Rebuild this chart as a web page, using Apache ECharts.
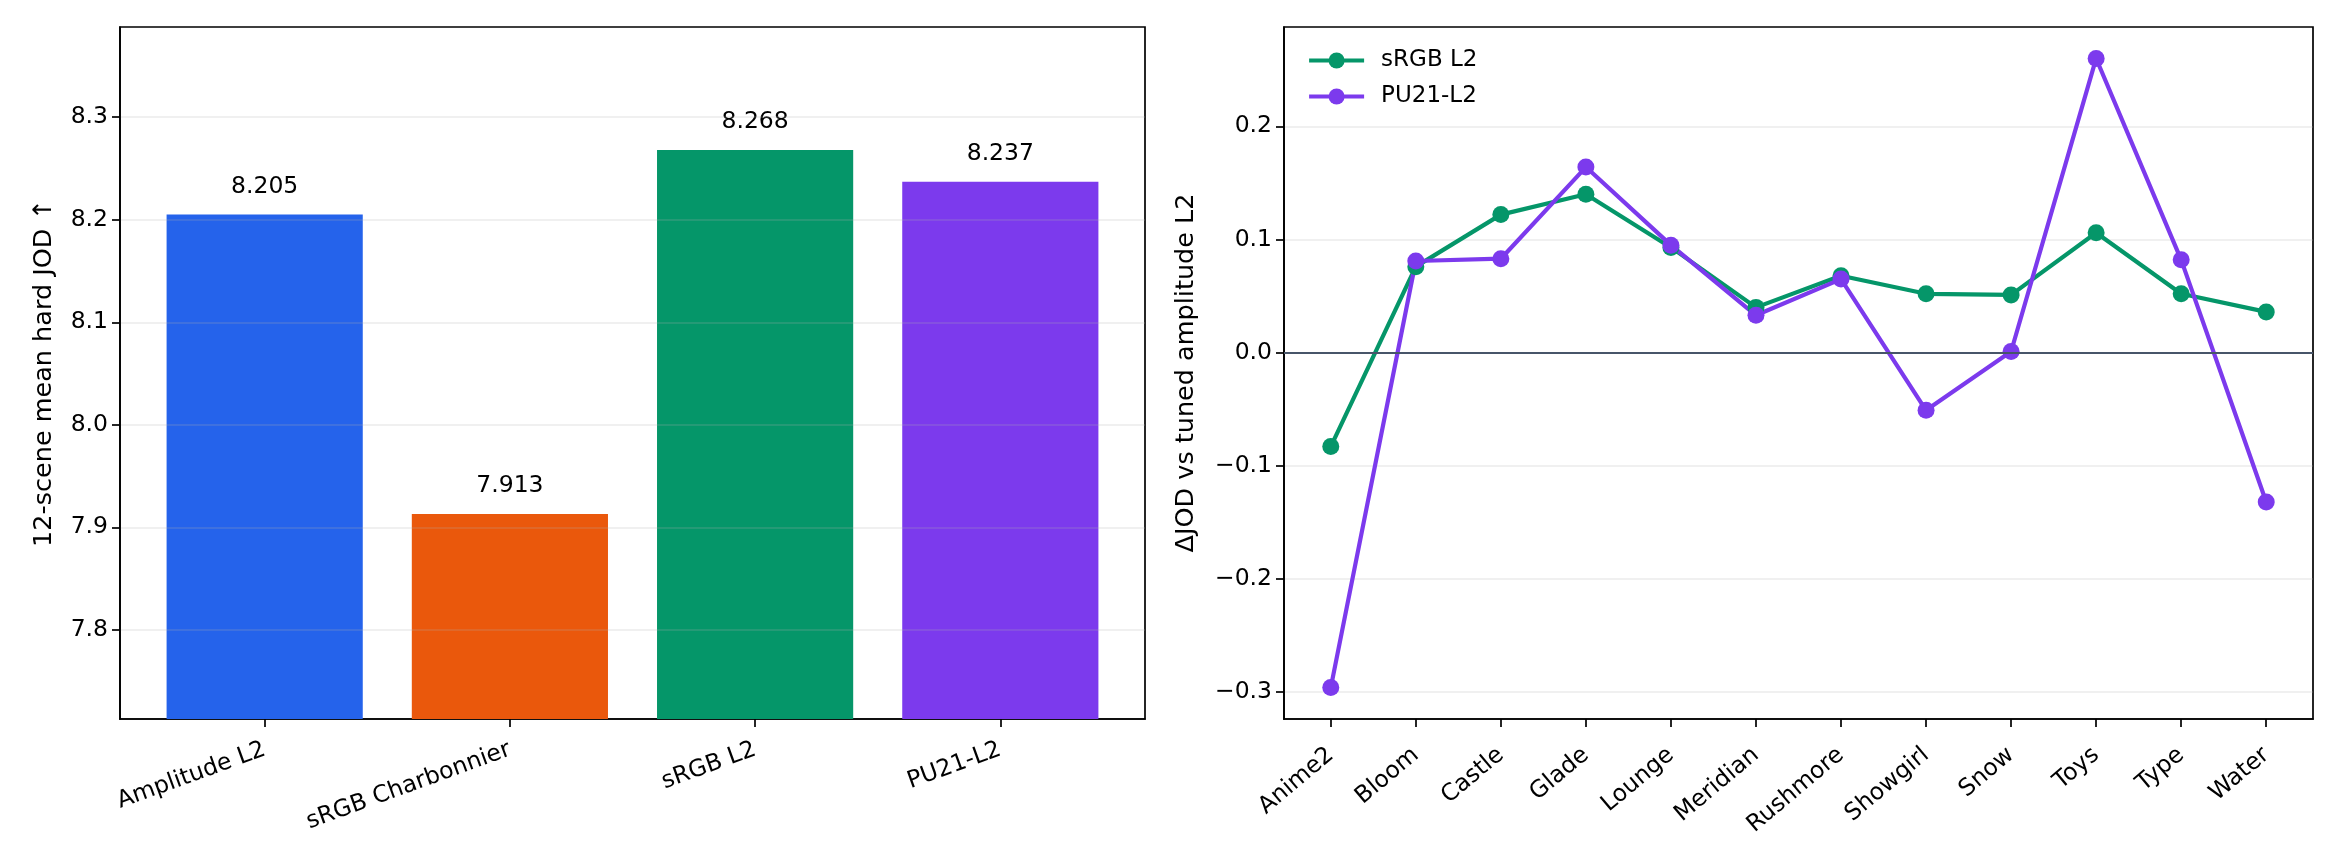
<!DOCTYPE html>
<html>
<head>
<meta charset="utf-8">
<title>JOD comparison</title>
<script src="https://cdn.jsdelivr.net/npm/echarts@6/dist/echarts.min.js"></script>
<style>
  html, body { margin: 0; padding: 0; background: #fff; }
  #chart { width: 2340px; height: 864px; }
</style>
</head>
<body>
<div id="chart"></div>
<script>
// left panel: mean hard JOD per loss
var methods = ['Amplitude L2', 'sRGB Charbonnier', 'sRGB L2', 'PU21-L2'];
var meanJod = [8.205, 7.913, 8.268, 8.237];
var barColors = ['#2563eb', '#ea580c', '#059669', '#7c3aed'];
var leftTicks = [7.8, 7.9, 8.0, 8.1, 8.2, 8.3];

// right panel: per-scene delta vs tuned amplitude L2
var scenes = ['Anime2', 'Bloom', 'Castle', 'Glade', 'Lounge', 'Meridian',
              'Rushmore', 'Showgirl', 'Snow', 'Toys', 'Type', 'Water'];
var srgbDelta = [-0.083, 0.076, 0.122, 0.140, 0.093, 0.040, 0.068, 0.052, 0.051, 0.106, 0.052, 0.036];
var pu21Delta = [-0.296, 0.081, 0.083, 0.164, 0.095, 0.033, 0.065, -0.051, 0.001, 0.260, 0.082, -0.132];
var rightTicks = [-0.3, -0.2, -0.1, 0.0, 0.1, 0.2];

var FONT = 'DejaVu Sans';
var FS = 23.5;      // tick labels, bar labels, legend
var FS_NAME = 25.5; // axis titles

function idx(n) {
    var a = [];
    for (var i = 0; i < n; i++) a.push(i);
    return a;
}
function fmt1(v) {
    return v.toFixed(1).replace('-', '\u2212');
}

var myChart = echarts.init(document.getElementById('chart'));

var frame = {
    show: true,
    borderColor: '#000',
    borderWidth: 1.7,
    backgroundColor: 'transparent'
};
var axisLine = { show: true, onZero: false, lineStyle: { color: '#000', width: 1.7 } };
var tickStyle = { show: true, length: 8, inside: false, lineStyle: { color: '#000', width: 1.7 } };
var gridLine = { show: true, lineStyle: { color: 'rgba(176,176,176,0.25)', width: 1.5 } };

var option = {
    animation: false,
    textStyle: { fontFamily: FONT },
    grid: [
        Object.assign({ left: 120, right: 1195, top: 27, bottom: 145 }, frame),
        Object.assign({ left: 1284, right: 27, top: 27, bottom: 145 }, frame)
    ],
    legend: {
        left: 1307,
        top: 49,
        padding: 0,
        orient: 'vertical',
        itemWidth: 55,
        itemHeight: 20,
        itemGap: 13,
        lineStyle: { width: 4.2 },
        textStyle: { fontFamily: FONT, fontSize: 23, color: '#000', padding: [0, 0, 0, 12] },
        data: ['sRGB L2', 'PU21-L2']
    },
    xAxis: [{
        gridIndex: 0,
        type: 'value',
        min: -0.59,
        max: 3.59,
        axisLine: axisLine,
        axisTick: Object.assign({ customValues: idx(methods.length) }, tickStyle),
        splitLine: { show: false },
        axisLabel: {
            customValues: idx(methods.length),
            rotate: 20,
            margin: 30,
            fontFamily: FONT,
            fontSize: FS,
            color: '#000',
            formatter: function (v) { return methods[Math.round(v)]; }
        }
    }, {
        gridIndex: 1,
        type: 'value',
        min: -0.55,
        max: 11.55,
        axisLine: axisLine,
        axisTick: Object.assign({ customValues: idx(scenes.length) }, tickStyle),
        splitLine: { show: false },
        axisLabel: {
            customValues: idx(scenes.length),
            rotate: 40,
            margin: 33,
            fontFamily: FONT,
            fontSize: FS,
            color: '#000',
            formatter: function (v) { return scenes[Math.round(v)]; }
        }
    }],
    yAxis: [{
        gridIndex: 0,
        type: 'value',
        z: 3,
        min: 7.713,
        max: 8.388,
        name: '12-scene mean hard JOD \u2191',
        nameLocation: 'middle',
        nameGap: 63,
        nameTextStyle: { fontFamily: FONT, fontSize: FS_NAME, color: '#000' },
        axisLine: axisLine,
        axisTick: Object.assign({ customValues: leftTicks }, tickStyle),
        splitLine: gridLine,
        axisLabel: {
            customValues: leftTicks,
            margin: 12,
            fontFamily: FONT,
            fontSize: FS,
            color: '#000',
            formatter: fmt1
        }
    }, {
        gridIndex: 1,
        type: 'value',
        min: -0.3238,
        max: 0.2878,
        name: '\u0394JOD vs tuned amplitude L2',
        nameLocation: 'middle',
        nameGap: 85,
        nameTextStyle: { fontFamily: FONT, fontSize: FS_NAME, color: '#000' },
        axisLine: axisLine,
        axisTick: Object.assign({ customValues: rightTicks }, tickStyle),
        splitLine: gridLine,
        axisLabel: {
            customValues: rightTicks,
            margin: 12,
            fontFamily: FONT,
            fontSize: FS,
            color: '#000',
            formatter: fmt1
        }
    }],
    series: [{
        type: 'bar',
        xAxisIndex: 0,
        yAxisIndex: 0,
        barWidth: '80%',
        data: meanJod.map(function (v, i) {
            return { value: [i, v], itemStyle: { color: barColors[i] } };
        }),
        label: {
            show: true,
            position: 'top',
            distance: 16,
            fontFamily: FONT,
            fontSize: FS,
            color: '#000',
            formatter: function (p) { return p.value[1].toFixed(3); }
        }
    }, {
        name: 'sRGB L2',
        type: 'line',
        xAxisIndex: 1,
        yAxisIndex: 1,
        symbol: 'circle',
        symbolSize: 17,
        color: '#059669',
        lineStyle: { width: 4.2, color: '#059669' },
        itemStyle: { color: '#059669' },
        data: srgbDelta.map(function (v, i) { return [i, v]; }),
        markLine: {
            silent: true,
            symbol: 'none',
            label: { show: false },
            lineStyle: { color: '#475569', width: 2, type: 'solid' },
            data: [{ yAxis: 0 }]
        }
    }, {
        name: 'PU21-L2',
        type: 'line',
        xAxisIndex: 1,
        yAxisIndex: 1,
        symbol: 'circle',
        symbolSize: 17,
        color: '#7c3aed',
        lineStyle: { width: 4.2, color: '#7c3aed' },
        itemStyle: { color: '#7c3aed' },
        data: pu21Delta.map(function (v, i) { return [i, v]; })
    }]
};

myChart.setOption(option);
</script>
</body>
</html>
